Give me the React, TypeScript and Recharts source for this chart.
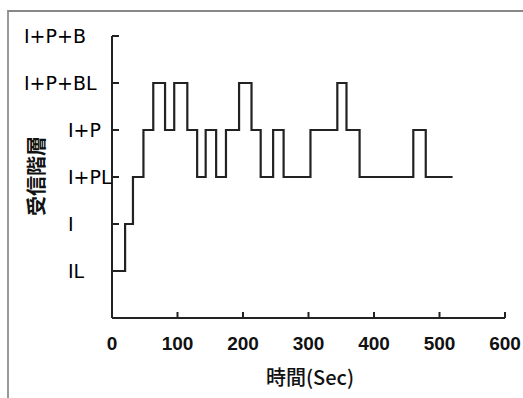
import { LineChart, Line, XAxis, YAxis } from 'recharts';

const times = [0, 20, 32, 48, 63, 81, 95, 115, 130, 143, 159, 174, 194, 213, 227, 246, 262, 303, 344, 358, 378, 460, 479, 520];
const levels = [1, 2, 3, 4, 5, 4, 5, 4, 3, 4, 3, 4, 5, 4, 3, 4, 3, 4, 5, 4, 3, 4, 3, 3];
const levelNames = ['', 'IL', 'I', 'I+PL', 'I+P', 'I+P+BL', 'I+P+B'];
const xTicks = [0, 100, 200, 300, 400, 500, 600];
const yTicks = [0, 1, 2, 3, 4, 5, 6];

const data = times.map((t, i) => ({ t, level: levels[i] }));

const INK = '#222';
const latin = '"DejaVu Sans", sans-serif';
const jp = '"Noto Sans CJK JP", sans-serif';

function YTick(props: any) {
  const { x, y, payload } = props;
  const name = levelNames[payload.value];
  if (!name) return null;
  // long names start further left, short ones line up near the axis
  const tx = name.length > 4 ? x - 88 : x - 44;
  return (
    <g>
      <line x1={x} y1={y} x2={x + 7} y2={y} stroke={INK} strokeWidth={2} />
      <text x={tx} y={y} dy={7} textAnchor="start" fontFamily={latin} fontSize={19} fill="#000">
        {name}
      </text>
    </g>
  );
}

function XTick(props: any) {
  const { x, y, payload } = props;
  return (
    <g>
      {payload.value > 0 && <line x1={x} y1={y} x2={x} y2={y - 6} stroke={INK} strokeWidth={2} />}
      <text x={x} y={y + 32} textAnchor="middle" fontFamily='"Liberation Sans", sans-serif' fontSize={19} fontWeight="bold" fill="#111">
        {payload.value}
      </text>
    </g>
  );
}

export default function App() {
  return (
    <div style={{ position: 'absolute', left: 0, top: 0, width: 523, height: 398, background: '#fff' }}>
      <div style={{ position: 'absolute', left: 7, top: 10, right: 0, bottom: 0, borderTop: '2px solid #888', borderLeft: '2px solid #999' }} />
      <LineChart width={523} height={398} data={data} margin={{ top: 36, right: 18, left: 0, bottom: 0 }}>
        <XAxis
          dataKey="t"
          type="number"
          domain={[0, 600]}
          ticks={xTicks}
          height={80}
          tickSize={0}
          tickMargin={0}
          tickLine={false}
          tick={<XTick />}
          axisLine={{ stroke: INK, strokeWidth: 2 }}
          label={() => (
            <text x={310} y={385} textAnchor="middle" fontFamily={jp} fontSize={20} fontWeight={500} fill="#111">
              時間(Sec)
            </text>
          )}
        />
        <YAxis
          type="number"
          domain={[0, 6]}
          ticks={yTicks}
          width={112}
          tickSize={0}
          tickMargin={0}
          tickLine={false}
          tick={<YTick />}
          axisLine={{ stroke: INK, strokeWidth: 2 }}
          label={() => (
            <text x={44} y={176} transform="rotate(-90 44 176)" textAnchor="middle" fontFamily={jp} fontSize={20} fontWeight="bold" fill="#111">
              受信階層
            </text>
          )}
        />
        <Line
          type="stepAfter"
          dataKey="level"
          stroke={INK}
          strokeWidth={2.2}
          dot={false}
          isAnimationActive={false}
        />
      </LineChart>
    </div>
  );
}
